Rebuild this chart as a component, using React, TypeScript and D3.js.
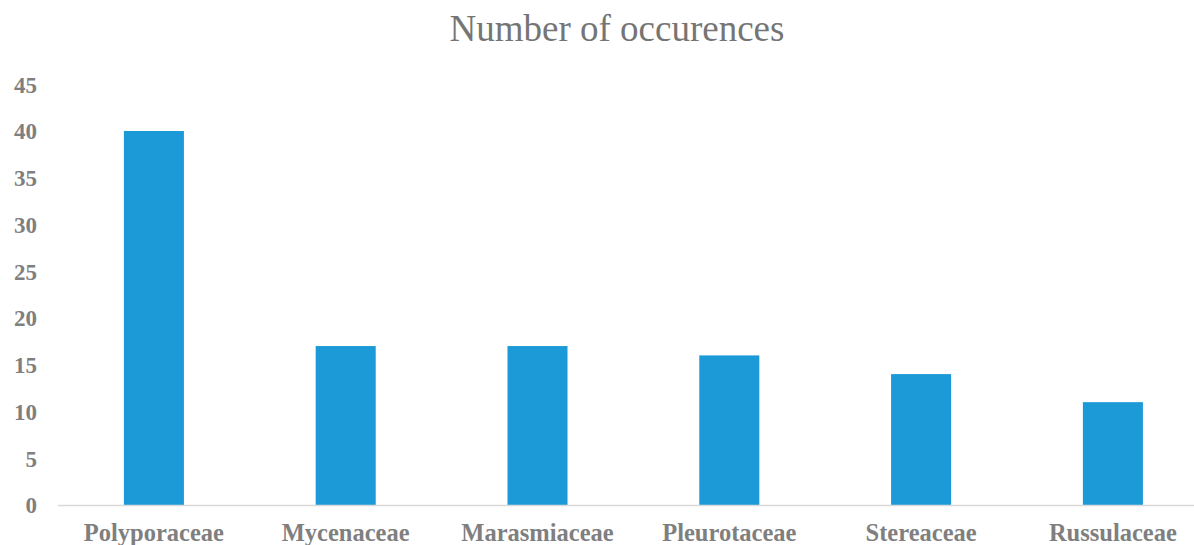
import React from "react";
import * as d3 from "d3";

const categories = ["Polyporaceae", "Mycenaceae", "Marasmiaceae", "Pleurotaceae", "Stereaceae", "Russulaceae"];
const values = [40, 17, 17, 16, 14, 11];
const yTicks = [0, 5, 10, 15, 20, 25, 30, 35, 40, 45];
const title = "Number of occurences";

export default function App() {
  const W = 1194, H = 545;
  const x = d3.scaleBand<string>().domain(categories).range([58, 58 + 6 * 191.8]).paddingInner(0.687).paddingOuter(0.3435);
  const y = d3.scaleLinear().domain([0, 45]).range([505, 84.25]);
  const font = "'Liberation Serif', 'Times New Roman', serif";
  const gray = "#7f7f7f";
  return (
    <svg width={W} height={H} style={{ position: "absolute", left: 0, top: 0, background: "#fff" }}>
      <text x={617} y={41} textAnchor="middle" fontFamily={font} fontSize={37} fill="#757575">{title}</text>
      {yTicks.map(t => (
        <text key={t} x={37} y={y(t)} dy="0.36em" textAnchor="end" fontFamily={font} fontWeight="bold" fontSize={23} fill={gray}>{t}</text>
      ))}
      {categories.map((c, i) => (
        <rect key={c} x={x(c)} y={y(values[i])} width={x.bandwidth()} height={y(0) - y(values[i])} fill="#1b9ad7" />
      ))}
      <line x1={58} x2={W} y1={y(0) + 0.5} y2={y(0) + 0.5} stroke="#d9d9d9" strokeWidth={1.5} />
      {categories.map(c => (
        <text key={c} x={(x(c) as number) + x.bandwidth() / 2} y={541} textAnchor="middle" fontFamily={font} fontWeight="bold" fontSize={24.5} fill={gray}>{c}</text>
      ))}
    </svg>
  );
}
